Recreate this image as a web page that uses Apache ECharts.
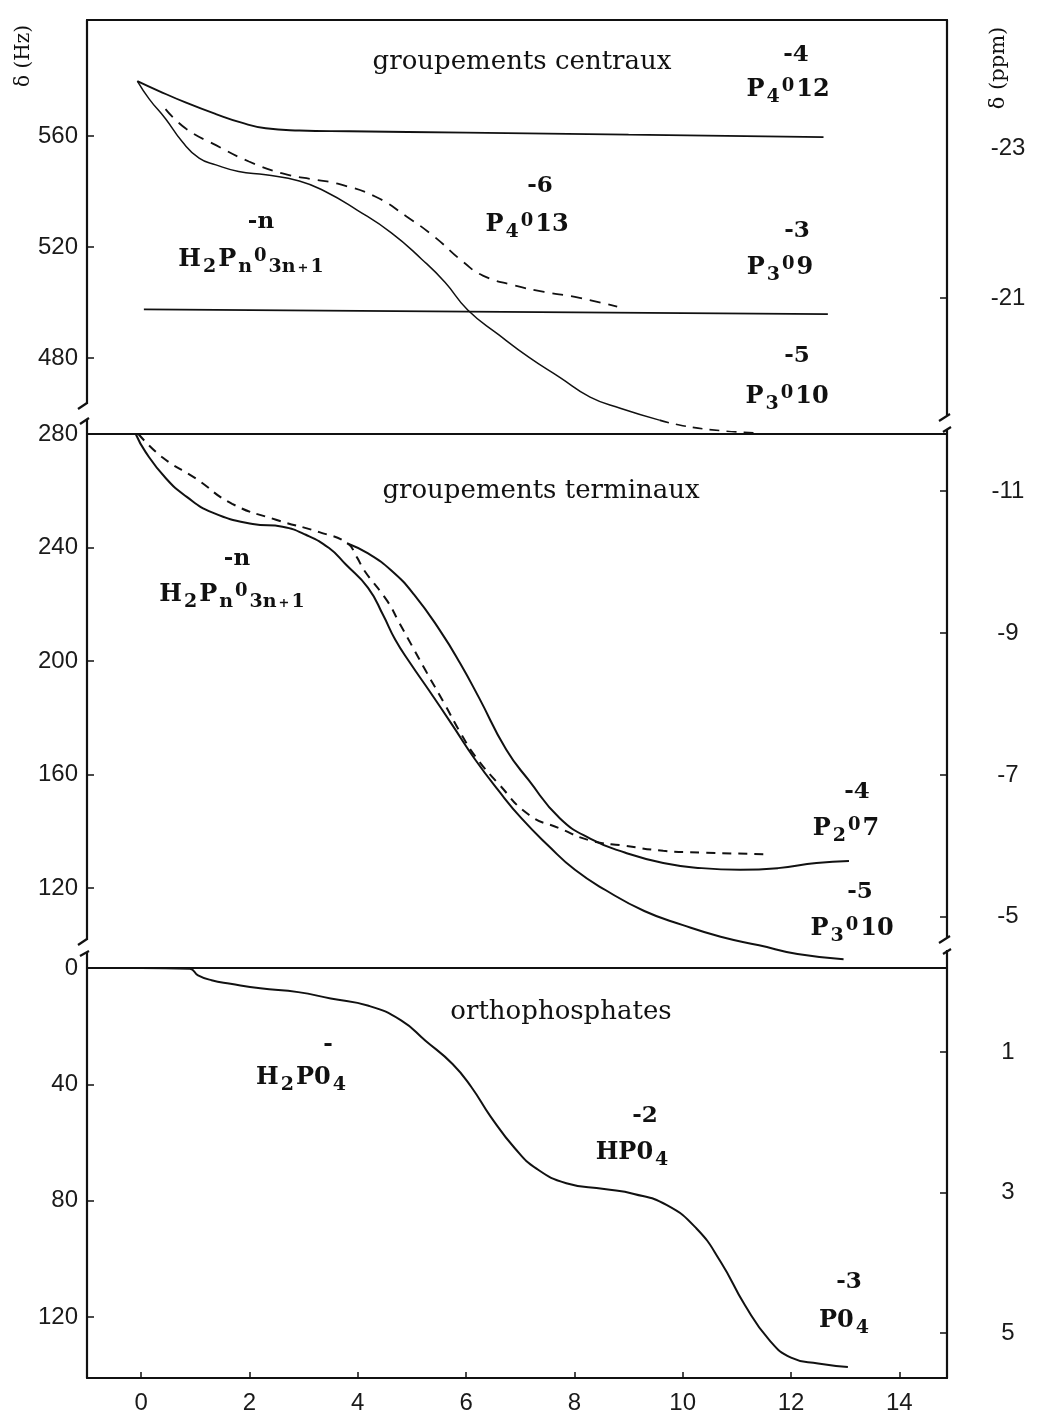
<!DOCTYPE html>
<html><head><meta charset="utf-8">
<script src="https://cdn.jsdelivr.net/npm/echarts@6/dist/echarts.min.js"></script>
<style>html,body{margin:0;padding:0;background:#fff}#c{width:1042px;height:1425px}</style>
</head><body><div id="c"></div>
<script>
// ---------- data ----------
const xTicks = [0, 2, 4, 6, 8, 10, 12, 14];
const hzTicksCentral = [560, 520, 480];
const ppmTicksCentral = [-23, -21];
const hzTicksTerminal = [280, 240, 200, 160, 120];
const ppmTicksTerminal = [-11, -9, -7, -5];
const hzTicksOrtho = [0, 40, 80, 120];
const ppmTicksOrtho = [1, 3, 5];

// groupements centraux (Hz)
const centralP4O12 = [[-0.07,579.8],[0.33,576.2],[0.83,572],[1.38,567.9],[1.87,564.7],[2.3,562.8],[2.92,562],[3.84,561.7],[6,561.2],[9,560.5],[12.6,559.6]];
const centralP3O10 = [[-0.07,579.8],[0.15,573.3],[0.45,566.2],[0.76,557.9],[1.07,552],[1.38,549.6],[1.8,547.2],[2.3,546],[2.92,543.8],[3.4,540],[3.98,533.4],[4.62,525.1],[5.18,515.6],[5.61,507.3],[6.03,497.3],[6.6,488.4],[7.17,480.1],[7.73,473],[8.29,465.9],[8.86,461.8],[9.57,457.6]];
const centralP3O10Tail = [[9.57,457.6],[10.0,455.6],[10.7,453.8],[11.4,453]];
const centralP4O13 = [[0.45,569.7],[0.83,562.6],[1.38,556.7],[1.99,550.8],[2.61,546.5],[3.22,544.2],[3.63,542.8],[4.33,538.1],[4.9,531],[5.4,523.9],[5.96,514.4],[6.31,509.7],[6.88,506.2],[7.44,503.8],[8.01,502],[8.79,498.5]];
const centralP3O9 = [[0.05,497.5],[12.68,495.8]];

// groupements terminaux (Hz)
const terminalP3O10 = [[-0.1,280],[0.08,273.7],[0.46,264.3],[0.83,258],[1.32,252.3],[2.06,248.3],[2.61,247.3],[3.04,244.5],[3.47,239.8],[3.78,234],[4.19,225.8],[4.47,216.1],[4.69,207.6],[4.97,199.2],[5.32,189.5],[5.75,177.3],[6.17,165.2],[6.6,154.3],[7.02,144.6],[7.52,134.9],[8.01,126.4],[8.58,119.2],[9.29,111.9],[9.99,107],[10.7,102.8],[11.41,99.8],[12.12,96.7],[12.97,94.9]];
const terminalP2O7 = [[3.8,241.5],[4.19,237.9],[4.62,231.9],[5.04,223.4],[5.54,210.1],[5.89,199.2],[6.24,187],[6.74,168.8],[7.16,157.9],[7.73,144.6],[8.3,137.3],[8.93,132.5],[9.64,128.8],[10.35,127],[11.06,126.4],[11.76,127],[12.47,128.8],[13.07,129.5]];
const terminalDashed = [[-0.05,280],[0.39,271.8],[1.01,264.3],[1.68,255.4],[2.49,249.8],[3.29,245.4],[3.8,241.6],[3.98,236.7],[4.12,231.9],[4.55,221],[4.76,213.7],[5.04,204],[5.25,196.7],[5.61,184.6],[5.89,174.9],[6.17,166.4],[6.6,156.7],[7.16,145.8],[7.73,141],[8.3,136.7],[8.93,134.9],[9.64,133.1],[10.35,132.5],[11.52,131.9]];

// orthophosphates (Hz)
const ortho = [[-0.9,0],[0,0],[0.9,0.3],[1.05,2.5],[1.3,4.2],[1.65,5.4],[2.2,7],[2.9,8.3],[3.5,10.5],[4.2,13],[4.8,18],[5.25,25],[5.75,33],[6.1,41],[6.45,51],[6.9,62],[7.3,69],[7.85,74],[8.55,76],[9.1,77.7],[9.7,81.5],[10.25,89.5],[10.7,101],[11.15,116],[11.6,128],[12.0,134],[12.5,136],[13.05,137.2]];

// ---------- chart ----------
const INK = '#111';
const chart = echarts.init(document.getElementById('c'), null, {renderer: 'canvas', width: 1042, height: 1425});

const gridBase = {left: 87, right: 95, containLabel: false, outerBoundsMode: 'none'};
const grids = [
  Object.assign({top: 20, height: 414}, gridBase),
  Object.assign({top: 434, height: 534}, gridBase),
  Object.assign({top: 968, height: 410}, gridBase)
];

function xLine(gridIndex, position) {
  return {type: 'value', gridIndex, position, min: -1, max: 14.88,
    axisLine: {show: true, onZero: false, lineStyle: {color: INK, width: 2.2}},
    axisTick: {show: false}, axisLabel: {show: false}, splitLine: {show: false}};
}
const xAxes = [
  xLine(0, 'top'),
  xLine(1, 'top'),
  {type: 'value', gridIndex: 2, position: 'bottom', min: -1, max: 14.88,
    axisLine: {show: true, onZero: false, lineStyle: {color: INK, width: 2.2}},
    axisTick: {show: true, inside: true, length: 6, customValues: xTicks, lineStyle: {color: INK, width: 1.5}},
    axisLabel: {show: true, customValues: xTicks, margin: 13, fontFamily: 'Liberation Sans', fontSize: 24, color: '#1a1a1a'},
    splitLine: {show: false}},
  xLine(2, 'top')
];

function yAx(gridIndex, position, min, max, ticks, labels, inverse) {
  const left = position === 'left';
  return {type: 'value', gridIndex, position, min, max, inverse,
    axisLine: {show: true, onZero: false, lineStyle: {color: INK, width: 2.2}},
    axisTick: {show: true, inside: true, length: 7, customValues: ticks, lineStyle: {color: INK, width: 1.5}},
    axisLabel: {show: true, customValues: labels, margin: left ? 9 : 61, align: left ? 'right' : 'center',
      fontFamily: 'Liberation Sans', fontSize: 24, color: '#1a1a1a'},
    splitLine: {show: false}};
}
const yAxes = [
  yAx(0, 'left', 452.6, 601.8, hzTicksCentral, hzTicksCentral, false),
  yAx(0, 'right', -24.707, -19.187, [-21], ppmTicksCentral, true),
  yAx(1, 'left', 91.8, 280, hzTicksTerminal.slice(1), hzTicksTerminal, false),
  yAx(1, 'right', -11.805, -4.278, ppmTicksTerminal, ppmTicksTerminal, true),
  yAx(2, 'left', 0, 141, hzTicksOrtho.slice(1), hzTicksOrtho, true),
  yAx(2, 'right', -0.196, 5.641, ppmTicksOrtho, ppmTicksOrtho, true)
];

function line(name, data, xi, yi, dashed, width) {
  return {name, type: 'line', data, xAxisIndex: xi, yAxisIndex: yi,
    showSymbol: false, symbol: 'none', smooth: 0.5, clip: false,
    lineStyle: {color: INK, width: width || 1.8, type: dashed ? dashed : 'solid'},
    silent: true};
}
const series = [
  line('P4O12', centralP4O12, 0, 0, null, 1.9),
  line('P3O10 central', centralP3O10, 0, 0, null, 1.5),
  line('P3O10 central (fin)', centralP3O10Tail, 0, 0, [10, 7], 1.6),
  line('P4O13', centralP4O13, 0, 0, [11, 8], 1.8),
  line('P3O9', centralP3O9, 0, 0, null, 1.9),
  line('P3O10 terminal', terminalP3O10, 1, 2, null, 2),
  line('P2O7', terminalP2O7, 1, 2, null, 2),
  line('terminal (tirets)', terminalDashed, 1, 2, [9, 7], 2),
  line('orthophosphates', ortho, 2, 4, null, 2)
];

// ---------- text ----------
const F = '"DejaVu Serif"';
const rich = {
  m: {fontFamily: 'DejaVu Serif', fontWeight: 'bold', fontSize: 24, lineHeight: 34, verticalAlign: 'middle', padding: [0, 1, 0, 1], fill: INK},
  s: {fontFamily: 'DejaVu Serif', fontWeight: 'bold', fontSize: 19, lineHeight: 23, verticalAlign: 'bottom', padding: [0, 1, 0, 1], fill: INK},
  u: {fontFamily: 'DejaVu Serif', fontWeight: 'bold', fontSize: 18, lineHeight: 18, verticalAlign: 'top', padding: [4, 1, 0, 1], fill: INK},
  p: {fontFamily: 'DejaVu Serif', fontWeight: 'bold', fontSize: 13, lineHeight: 20, verticalAlign: 'bottom', padding: [0, 1, 2, 1], fill: INK}
};
function formula(x, y, text) {
  return {type: 'text', x, y, z: 100, silent: true,
    style: {text, rich, align: 'center', verticalAlign: 'middle', fill: INK, font: 'bold 24px ' + F}};
}
function plain(x, y, text, font, rot) {
  const g = {type: 'text', x, y, z: 100, silent: true,
    style: {text, align: 'center', verticalAlign: 'middle', fill: INK, font}};
  if (rot) g.rotation = rot;
  return g;
}
const CH = 'bold 23px ' + F;
const TT = '26px ' + F;
const texts = [
  plain(522, 62, 'groupements centraux', TT),
  plain(541, 491, 'groupements terminaux', TT),
  plain(561, 1012, 'orthophosphates', TT),
  plain(24, 56, 'δ (Hz)', '20px ' + F, Math.PI / 2),
  plain(999, 68, 'δ (ppm)', '21px ' + F, Math.PI / 2),
  // central
  plain(796, 55, '-4', CH), formula(788, 90, '{m|P}{s|4}{u|0}{m|12}'),
  plain(261, 222, '-n', CH), formula(251, 260, '{m|H}{s|2}{m|P}{s|n}{u|0}{s|3n}{p|+}{s|1}'),
  plain(540, 186, '-6', CH), formula(527, 225, '{m|P}{s|4}{u|0}{m|13}'),
  plain(797, 231, '-3', CH), formula(780, 268, '{m|P}{s|3}{u|0}{m|9}'),
  plain(797, 356, '-5', CH), formula(787, 397, '{m|P}{s|3}{u|0}{m|10}'),
  // terminal
  plain(237, 559, '-n', CH), formula(232, 595, '{m|H}{s|2}{m|P}{s|n}{u|0}{s|3n}{p|+}{s|1}'),
  plain(857, 792, '-4', CH), formula(846, 829, '{m|P}{s|2}{u|0}{m|7}'),
  plain(860, 892, '-5', CH), formula(852, 929, '{m|P}{s|3}{u|0}{m|10}'),
  // ortho
  plain(328, 1045, '-', CH), formula(301, 1078, '{m|H}{s|2}{m|P0}{s|4}'),
  plain(645, 1116, '-2', CH), formula(632, 1153, '{m|HP0}{s|4}'),
  plain(849, 1282, '-3', CH), formula(844, 1321, '{m|P0}{s|4}')
];

// axis breaks (white gaps + slashes)
function gap(x, y, w, h) { return {type: 'rect', z: 90, silent: true, shape: {x, y, width: w, height: h}, style: {fill: '#fff'}}; }
function slash(x1, y1, x2, y2) { return {type: 'line', z: 95, silent: true, shape: {x1, y1, x2, y2}, style: {stroke: INK, lineWidth: 2.2}}; }
const breaks = [
  gap(80, 404, 14, 16), slash(87, 403, 78, 409), slash(80, 424, 89, 418),
  gap(940, 415, 14, 15), slash(950, 414, 939, 421), slash(943, 432, 951, 427),
  gap(80, 940, 14, 13), slash(87, 939, 78, 945), slash(80, 956, 89, 951),
  gap(940, 937, 14, 13), slash(950, 936, 939, 943), slash(943, 954, 951, 949)
];

chart.setOption({
  animation: false,
  backgroundColor: '#fff',
  grid: grids,
  xAxis: xAxes,
  yAxis: yAxes,
  series,
  graphic: {elements: breaks.concat(texts)}
});
</script>
</body></html>
